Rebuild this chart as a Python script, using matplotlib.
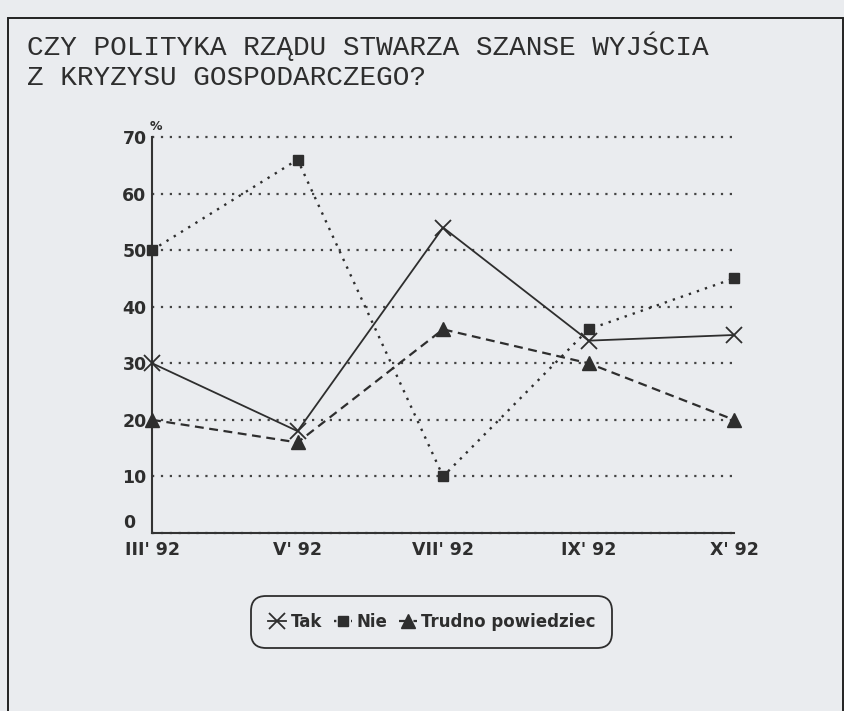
import matplotlib
matplotlib.use("Agg")
import matplotlib.pyplot as plt
import matplotlib.patches as mpatches
import numpy as np

BG = "#eaecef"
INK = "#2e2e2e"

months = ["III' 92", "V' 92", "VII' 92", "IX' 92", "X' 92"]
tak = [30, 18, 54, 34, 35]
nie = [50, 66, 10, 36, 45]
trudno = [20, 16, 36, 30, 20]
y_ticks = [0, 10, 20, 30, 40, 50, 60, 70]

title_1 = "CZY POLITYKA RZĄDU STWARZA SZANSE WYJŚCIA"
title_2 = "Z KRYZYSU GOSPODARCZEGO?"

plt.rcParams["font.family"] = ["DejaVu Sans"]

fig = plt.figure(figsize=(8.45, 7.11), dpi=100, facecolor=BG)

# scanned page frame (open at the bottom)
fig.add_artist(mpatches.Rectangle((0.0095, -0.2), 0.988, 1.1747, transform=fig.transFigure,
                                  fill=False, edgecolor="#222222", linewidth=1.4))

fig.text(0.032, 0.923, title_1, family=["Liberation Mono", "DejaVu Sans Mono"],
         fontsize=20, color=INK, va="baseline")
fig.text(0.032, 0.880, title_2, family=["Liberation Mono", "DejaVu Sans Mono"],
         fontsize=20, color=INK, va="baseline")

ax = fig.add_axes([0.180, 0.2504, 0.6887, 0.5569])
ax.set_facecolor("none")

x = np.arange(len(months))
ax.plot(x, tak, color=INK, lw=1.3, marker="x", ms=12, mew=1.3, label="Tak",
        clip_on=False, zorder=4)
ax.plot(x, nie, color=INK, lw=1.7, ls=(0, (1, 2.6)), marker="s", ms=6.5, label="Nie",
        clip_on=False, zorder=4)
ax.plot(x, trudno, color=INK, lw=1.6, ls=(0, (4, 2.5)), marker="^", ms=9.5,
        label="Trudno powiedziec", clip_on=False, zorder=4)

ax.set_xlim(0, 4)
ax.set_ylim(0, 70)
ax.set_xticks(x)
ax.set_xticklabels(months, fontsize=12.5, fontweight="bold", color=INK)
ax.set_yticks(y_ticks)
ax.set_yticklabels([""] + [str(v) for v in y_ticks[1:]], fontsize=12.5,
                   fontweight="bold", color=INK)
ax.tick_params(axis="both", length=0)
ax.tick_params(axis="x", pad=6)
ax.tick_params(axis="y", pad=4)
ax.yaxis.grid(True, ls=(0, (1, 3)), color="#444444", lw=1.6)
ax.set_axisbelow(True)
for gl in ax.yaxis.get_gridlines():
    gl.set_clip_on(False)

for side in ("top", "right"):
    ax.spines[side].set_visible(False)
for side in ("left", "bottom"):
    ax.spines[side].set_color("#333333")
    ax.spines[side].set_linewidth(1.5)

# zero label sits above the axis, "%" above the top of the y axis
ax.annotate("0", xy=(0, 0), xytext=(-12, 1), textcoords="offset points",
            ha="right", va="bottom", fontsize=12.5, fontweight="bold", color=INK)
ax.annotate("%", xy=(0, 70), xytext=(3, 3), textcoords="offset points",
            ha="center", va="bottom", fontsize=9, fontweight="bold", color=INK)

leg = ax.legend(loc="center", bbox_to_anchor=(0.511, 0.125), bbox_transform=fig.transFigure,
                ncol=3, frameon=True, fancybox=True, edgecolor=INK, facecolor=BG,
                framealpha=1, handlelength=1.1, handletextpad=0.25, columnspacing=0.7,
                borderpad=1.0, numpoints=1, prop={"weight": "bold", "size": 12})
leg.get_frame().set_linewidth(1.3)
leg.get_frame().set_boxstyle("round,pad=0,rounding_size=0.9")
for t in leg.get_texts():
    t.set_color(INK)

fig.savefig("out.png", dpi=100, facecolor=BG)
